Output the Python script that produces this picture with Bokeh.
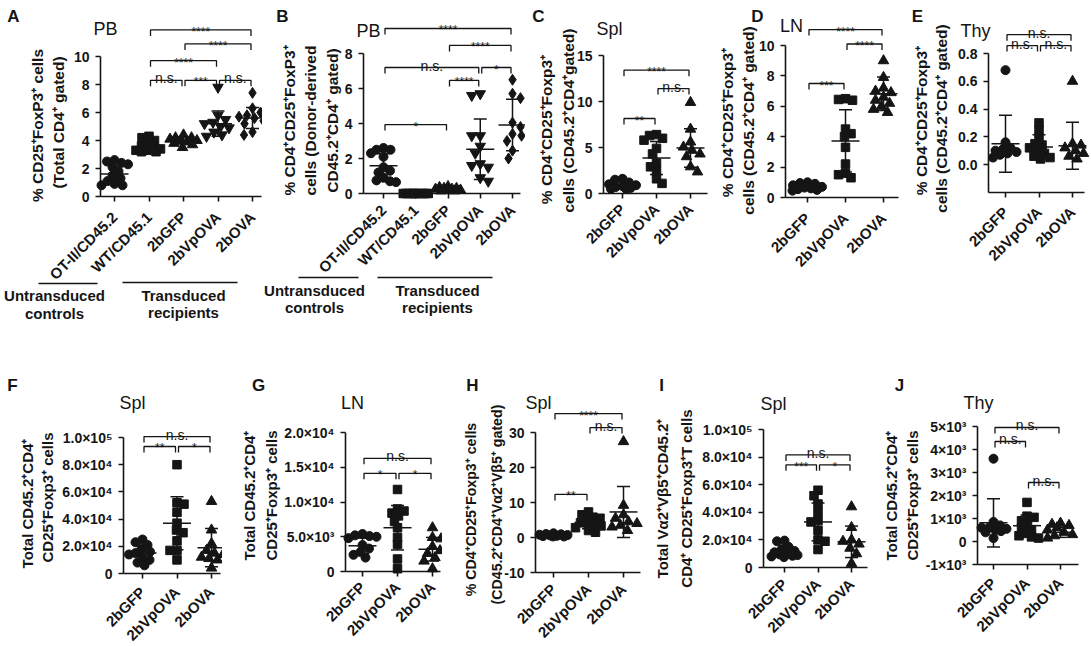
import math
from bokeh.plotting import figure
from bokeh.layouts import row, column
from bokeh.models import FixedTicker, Label, Arrow
from bokeh.core.properties import value
from bokeh.embed import file_html
from bokeh.resources import INLINE

FONT = "Liberation Sans"
INK = "#151515"

# ---------------------------------------------------------------- data
CATS5 = ["OT-II/CD45.2", "WT/CD45.1", "2bGFP", "2bVpOVA", "2bOVA"]
CATS3 = ["2bGFP", "2bVpOVA", "2bOVA"]
MARK5 = ["circle", "square", "triangle", "inverted_triangle", "diamond"]
MARK3 = ["circle", "square", "triangle"]

# A  PB, % CD25+FoxP3+ (total CD4+)
a_otii = [2.6, 2.5, 2.4, 2.3, 2.1, 1.8, 1.5, 1.3, 1.1, 0.9, 0.8, 0.8]
a_wt = [4.3, 4.2, 4.0, 3.8, 3.6, 3.5, 3.4, 3.3, 3.3, 3.2, 3.2]
a_gfp = [4.4, 4.2, 4.2, 4.1, 4.0, 4.0, 3.9, 3.8, 3.7, 3.5]
a_vpova = [7.8, 5.8, 5.5, 5.3, 5.2, 5.0, 4.9, 4.6, 4.4, 4.3]
a_ova = [7.4, 6.3, 6.0, 5.8, 5.7, 5.6, 5.4, 5.2, 4.6, 4.4]
a_mean = [1.6, 3.5, 4.0, 5.2, 5.6]
a_sd = [0.6, 0.3, 0.25, 0.9, 0.75]
a_sig = [(1, 2, 8.3, "n.s."), (2, 3, 8.3, "***"), (3, 4, 8.3, "n.s."),
         (1, 3, 9.7, "****"), (2, 4, 10.9, "****"), (1, 4, 11.9, "****")]
a_ticks = [0, 2, 4, 6, 8, 10]
a_tick_labels = ["0", "2", "4", "6", "8", "10"]

# B  PB, % donor-derived Treg
b_otii = [2.6, 2.5, 2.5, 2.3, 2.1, 1.5, 1.3, 1.2, 0.9, 0.75, 0.7, 0.65]
b_wt = [0.0, 0.0, 0.0, 0.0, 0.0, 0.0, 0.0, 0.0, 0.0, 0.0]
b_gfp = [0.4, 0.35, 0.3, 0.3, 0.25, 0.25, 0.2, 0.2, 0.15, 0.15]
b_vpova = [5.7, 5.6, 3.3, 3.3, 2.7, 2.3, 1.7, 1.6, 1.5, 0.9, 0.7]
b_ova = [6.5, 5.7, 5.45, 4.05, 3.8, 3.4, 3.3, 3.0, 2.45, 2.0]
b_mean = [1.58, 0.0, 0.25, 2.53, 3.92]
b_sd = [0.7, 0.0, 0.08, 1.73, 1.47]
b_sig = [(0, 4, 9.43, "****"), (2, 4, 8.46, "****"), (0, 3, 7.2, "n.s."),
         (3, 4, 7.2, "*"), (2, 3, 6.46, "****"), (0, 2, 3.94, "*")]
b_ticks = [0, 2, 4, 6, 8]
b_tick_labels = ["0", "2", "4", "6", "8"]

# C  Spl, % CD4+CD25+Foxp3+ (CD45.2+CD4+ gated)
c_gfp = [1.6, 1.5, 1.2, 1.0, 0.9, 0.8, 0.7, 0.6, 0.5, 0.5]
c_vpova = [6.4, 6.3, 6.0, 5.8, 4.9, 4.3, 3.3, 2.9, 2.4, 1.6, 1.1]
c_ova = [9.9, 7.0, 5.6, 5.05, 4.7, 4.3, 4.0, 2.9, 2.35]
c_mean = [0.9, 3.86, 4.95]
c_sd = [0.4, 1.8, 2.1]
c_sig = [(0, 2, 13.4, "****"), (1, 2, 11.4, "n.s."), (0, 1, 8.15, "**")]
c_ticks = [0, 5, 10, 15]
c_tick_labels = ["0", "5", "10", "15"]

# D  LN
d_gfp = [1.0, 0.95, 0.9, 0.8, 0.7, 0.65, 0.6, 0.55, 0.5, 0.45]
d_vpova = [6.5, 6.45, 6.4, 4.5, 4.2, 4.0, 3.3, 2.2, 1.6, 1.5, 1.3]
d_ova = [9.0, 7.9, 7.2, 7.0, 6.9, 6.6, 6.4, 6.2, 6.0, 5.8, 5.6]
d_mean = [0.7, 3.72, 6.83]
d_sd = [0.2, 2.05, 1.1]
d_sig = [(0, 2, 11.05, "****"), (1, 2, 10.1, "****"), (0, 1, 7.5, "***")]
d_ticks = [0, 2, 4, 6, 8, 10]
d_tick_labels = ["0", "2", "4", "6", "8", "10"]

# E  Thy
e_gfp = [0.68, 0.16, 0.12, 0.11, 0.1, 0.09, 0.08, 0.07, 0.05]
e_vpova = [0.30, 0.25, 0.19, 0.15, 0.14, 0.12, 0.10, 0.08, 0.06, 0.05, 0.04]
e_ova = [0.60, 0.15, 0.14, 0.12, 0.10, 0.08, 0.06, 0.04]
e_mean = [0.15, 0.127, 0.135]
e_sd = [0.205, 0.087, 0.17]
e_sig = [(0, 2, 0.936, "n.s."), (0, 1, 0.857, "n.s."), (1, 2, 0.857, "n.s.")]
e_ticks = [0, 0.2, 0.4, 0.6, 0.8]
e_tick_labels = ["0.0", "0.2", "0.4", "0.6", "0.8"]

# F  Spl, total CD45.2+CD4+CD25+Foxp3+ cells
f_gfp = [25000, 23000, 21000, 18000, 16000, 15000, 14000, 12000, 10000, 8000, 6000]
f_vpova = [80000, 52000, 51000, 45000, 37000, 32000, 30000, 24000, 17000, 17000, 10000]
f_ova = [53000, 32000, 22000, 17000, 15000, 14000, 12000, 11000, 10000, 4000]
f_mean = [15000, 37000, 19000]
f_sd = [5500, 19500, 14000]
f_sig = [(0, 2, 100700, "n.s."), (0, 1, 93400, "**"), (1, 2, 93400, "*")]
f_ticks = [0, 20000, 40000, 60000, 80000, 100000]
f_tick_labels = ["0", "2.0×10⁴", "4.0×10⁴", "6.0×10⁴", "8.0×10⁴", "1.0×10⁵"]

# G  LN, total cells
g_gfp = [5400, 5200, 5100, 5000, 4800, 3800, 3300, 2800, 2400, 2000]
g_vpova = [11800, 9000, 8700, 8400, 8000, 7200, 6300, 4900, 3900, 1800, 400]
g_ova = [6300, 4900, 4700, 3600, 3000, 2600, 2000, 1500, 400]
g_mean = [3700, 6300, 3200]
g_sd = [1100, 3200, 1700]
g_sig = [(0, 2, 16280, "n.s."), (0, 1, 14120, "*"), (1, 2, 14120, "*")]
g_ticks = [0, 5000, 10000, 15000, 20000]
g_tick_labels = ["0", "5.0×10³", "1.0×10⁴", "1.5×10⁴", "2.0×10⁴"]

# H  Spl, % of Va2+Vb5+ gated
h_gfp = [1.2, 1.0, 0.9, 0.8, 0.7, 0.6, 0.5, 0.4, 0.3, 0.3]
h_vpova = [7.3, 6.5, 5.8, 5.5, 4.5, 4.2, 3.8, 3.3, 2.8, 2.0, 1.5]
h_ova = [27.4, 9.2, 6.5, 5.5, 4.5, 4.0, 3.5, 3.0, 2.0]
h_mean = [0.6, 4.3, 7.3]
h_sd = [0.3, 1.8, 7.3]
h_sig = [(0, 2, 35.4, "****"), (1, 2, 31.4, "n.s."), (0, 1, 12.3, "**")]
h_ticks = [-10, 0, 10, 20, 30]
h_tick_labels = ["-10", "0", "10", "20", "30"]

# I  Spl, total Va2+Vb5+ Treg
i_gfp = [19500, 19000, 15000, 13000, 12000, 11000, 10000, 9500, 9000, 8500, 8000, 7500]
i_vpova = [56000, 52000, 46000, 40000, 34000, 33000, 27000, 20000, 19000, 13000]
i_ova = [44000, 29000, 20000, 19000, 17000, 14000, 10000, 3000]
i_mean = [12500, 33000, 18600]
i_sd = [3600, 13700, 11400]
i_sig = [(0, 2, 81600, "n.s."), (0, 1, 74400, "***"), (1, 2, 74400, "*")]
i_ticks = [0, 20000, 40000, 60000, 80000, 100000]
i_tick_labels = ["0", "2.0×10⁴", "4.0×10⁴", "6.0×10⁴", "8.0×10⁴", "1.0×10⁵"]

# J  Thy, total cells
j_gfp = [3600, 850, 700, 600, 600, 550, 500, 450, 400, 150]
j_vpova = [1700, 1100, 1050, 900, 750, 600, 500, 350, 250, 200, 150]
j_ova = [800, 750, 700, 600, 500, 400, 300, 250, 150]
j_mean = [810, 690, 400]
j_sd = [1050, 460, 220]
j_sig = [(0, 2, 4957, "n.s."), (0, 1, 4348, "n.s."), (1, 2, 2565, "n.s.")]
j_ticks = [-1000, 0, 1000, 2000, 3000, 4000, 5000]
j_tick_labels = ["-1×10³", "0", "1×10³", "2×10³", "3×10³", "4×10³", "5×10³"]

YL_PCT = ["% CD4⁺CD25⁺Foxp3⁺", "cells (CD45.2⁺CD4⁺ gated)"]
YL_TOT = ["Total CD45.2⁺CD4⁺", "CD25⁺Foxp3⁺ cells"]

PANELS = [
    dict(key="A", title="PB", cats=CATS5, marks=MARK5, pts=[a_otii, a_wt, a_gfp, a_vpova, a_ova],
         mean=a_mean, sd=a_sd, sig=a_sig, ticks=a_ticks, tlabels=a_tick_labels,
         ylabel=["% CD25⁺FoxP3⁺ cells", "(Total CD4⁺ gated)"]),
    dict(key="B", title="PB", cats=CATS5, marks=MARK5, pts=[b_otii, b_wt, b_gfp, b_vpova, b_ova],
         mean=b_mean, sd=b_sd, sig=b_sig, ticks=b_ticks, tlabels=b_tick_labels,
         ylabel=["% CD4⁺CD25⁺FoxP3⁺", "cells (Donor-derived", "CD45.2⁺CD4⁺ gated)"]),
    dict(key="C", title="Spl", cats=CATS3, marks=MARK3, pts=[c_gfp, c_vpova, c_ova],
         mean=c_mean, sd=c_sd, sig=c_sig, ticks=c_ticks, tlabels=c_tick_labels,
         ylabel=["% CD4⁺CD25⁺Foxp3⁺", "cells (CD45.2⁺CD4⁺gated)"]),
    dict(key="D", title="LN", cats=CATS3, marks=MARK3, pts=[d_gfp, d_vpova, d_ova],
         mean=d_mean, sd=d_sd, sig=d_sig, ticks=d_ticks, tlabels=d_tick_labels, ylabel=YL_PCT),
    dict(key="E", title="Thy", cats=CATS3, marks=MARK3, pts=[e_gfp, e_vpova, e_ova],
         mean=e_mean, sd=e_sd, sig=e_sig, ticks=e_ticks, tlabels=e_tick_labels, ylabel=YL_PCT),
    dict(key="F", title="Spl", cats=CATS3, marks=MARK3, pts=[f_gfp, f_vpova, f_ova],
         mean=f_mean, sd=f_sd, sig=f_sig, ticks=f_ticks, tlabels=f_tick_labels, ylabel=YL_TOT),
    dict(key="G", title="LN", cats=CATS3, marks=MARK3, pts=[g_gfp, g_vpova, g_ova],
         mean=g_mean, sd=g_sd, sig=g_sig, ticks=g_ticks, tlabels=g_tick_labels, ylabel=YL_TOT),
    dict(key="H", title="Spl", cats=CATS3, marks=MARK3, pts=[h_gfp, h_vpova, h_ova],
         mean=h_mean, sd=h_sd, sig=h_sig, ticks=h_ticks, tlabels=h_tick_labels,
         ylabel=["% CD4⁺CD25⁺Foxp3⁺ cells", "(CD45.2⁺CD4⁺Vα2⁺Vβ5⁺ gated)"]),
    dict(key="I", title="Spl", cats=CATS3, marks=MARK3, pts=[i_gfp, i_vpova, i_ova],
         mean=i_mean, sd=i_sd, sig=i_sig, ticks=i_ticks, tlabels=i_tick_labels,
         ylabel=["Total Vα2⁺Vβ5⁺CD45.2⁺", "CD4⁺ CD25⁺Foxp3⁺T cells"]),
    dict(key="J", title="Thy", cats=CATS3, marks=MARK3, pts=[j_gfp, j_vpova, j_ova],
         mean=j_mean, sd=j_sd, sig=j_sig, ticks=j_ticks, tlabels=j_tick_labels, ylabel=YL_TOT),
]

# ---------------------------------------------------------------- layout (page pixels)
# fig: (left, right, top, bottom); axes: (y-axis x, x-axis end x, x-axis y)
# yref: (value_a, px_a, value_b, px_b) ; cat0: px of first category ; step: px between categories
GEO = {
    "A": dict(fig=(0, 262, 0, 330), axes=(100, 261, 196), yref=(0, 196, 10, 56), cat0=114, step=34.5,
              letter=(13, 16), tpos=(105, 28), ylx=[37, 58], yly=[125, 122], ylsize=15.5, xstand=13),
    "B": dict(fig=(262, 525, 0, 330), axes=(363, 520, 193), yref=(0, 193, 8, 53), cat0=383, step=32.25,
              letter=(282, 16), tpos=(368, 30), ylx=[289, 310, 332], yly=[120, 120, 120], ylsize=15.5, xstand=9),
    "C": dict(fig=(525, 710, 0, 330), axes=(603, 707, 193), yref=(0, 193, 15, 55), cat0=622, step=34,
              letter=(538, 16), tpos=(609, 28), ylx=[546, 568], yly=[129, 120], ylsize=15.5, xstand=8),
    "D": dict(fig=(710, 900, 0, 330), axes=(785, 898, 197), yref=(0, 197, 10, 45), cat0=807, step=38,
              letter=(757, 16), tpos=(791, 25), ylx=[727, 748], yly=[122, 120], ylsize=15.5, xstand=13),
    "E": dict(fig=(900, 1090, 0, 330), axes=(988, 1084, 192), yref=(0, 164, 0.8, 53), cat0=1005, step=33.5,
              letter=(917, 16), tpos=(975, 30), ylx=[921, 941], yly=[120, 118], ylsize=15.5, xstand=12),
    "F": dict(fig=(0, 222, 330, 645), axes=(123, 220, 573), yref=(0, 573, 100000, 437), cat0=142, step=34.5,
              letter=(12, 385), tpos=(132, 402), ylx=[27, 47], yly=[503, 497], ylsize=15, xstand=11),
    "G": dict(fig=(222, 442, 330, 645), axes=(345, 440, 571), yref=(0, 571, 20000, 432), cat0=362, step=35,
              letter=(258, 385), tpos=(352, 402), ylx=[249, 271], yly=[495, 495], ylsize=15, xstand=8),
    "H": dict(fig=(442, 645, 330, 645), axes=(535, 640, 572), yref=(-10, 572, 30, 432), cat0=553, step=35,
              letter=(472, 385), tpos=(538, 402), ylx=[470, 496], yly=[509, 504], ylsize=14.2, xstand=9),
    "I": dict(fig=(645, 870, 330, 645), axes=(763, 867, 567), yref=(0, 567, 100000, 429), cat0=784, step=33.5,
              letter=(661, 385), tpos=(773, 403), ylx=[662, 686], yly=[498, 498], ylsize=15, xstand=9),
    "J": dict(fig=(870, 1090, 330, 645), axes=(977, 1078, 564), yref=(-1000, 564, 5000, 426), cat0=993, step=33.5,
              letter=(899, 385), tpos=(978, 402), ylx=[891, 912], yly=[495, 495], ylsize=15, xstand=11),
}

# group captions under panels A and B: (x_from, x_to, line_y, text_x, text_y1, text_y2, line1, line2)
GROUPS = {
    "A": [(38, 97, 283, 54, 295, 313, "Untransduced", "controls"),
          (122, 237, 282, 183, 295, 312, "Transduced", "recipients")],
    "B": [(298, 358, 277, 314, 290, 307, "Untransduced", "controls"),
          (377, 492, 277, 437, 290, 307, "Transduced", "recipients")],
}

MSIZE = {"circle": 9, "square": 8.5, "triangle": 10.5, "inverted_triangle": 10.5, "diamond": 11}


def swarm_offsets(vals, sy, dmin, cap):
    order = sorted(range(len(vals)), key=lambda k: -vals[k])
    cands = [0.0]
    k = 1
    while k * 0.5 <= cap:
        cands += [k * 0.5, -k * 0.5]
        k += 1
    placed, offs = [], [0.0] * len(vals)
    for n, idx in enumerate(order):
        yp = vals[idx] * sy
        best, bestd = 0.0, -1.0
        for c in cands:
            cx = c if n % 2 == 0 else -c
            d = min((math.hypot(cx - px, yp - py) for px, py in placed), default=1e9)
            if d >= dmin:
                best = cx
                break
            if d > bestd:
                best, bestd = cx, d
        offs[idx] = best
        placed.append((best, yp))
    return offs


def make_panel(P):
    G = GEO[P["key"]]
    gl, gr, gt, gb = G["fig"]
    ax_x, ax_end, ax_y = G["axes"]
    v0, p0, v1, p1 = G["yref"]
    sy = (p0 - p1) / (v1 - v0)
    sx = G["step"]

    def X(ix):
        return (ix - G["cat0"]) / sx

    def Y(iy):
        return v0 + (p0 - iy) / sy

    p = figure(width=gr - gl, height=gb - gt, x_range=(X(gl), X(gr)), y_range=(Y(gb), Y(gt)),
               output_backend="svg", toolbar_location=None, min_border=0,
               min_border_left=0, min_border_right=0, min_border_top=0, min_border_bottom=0)
    p.outline_line_color = None
    p.grid.visible = False
    p.background_fill_color = "white"
    p.border_fill_color = "white"

    def label(text, ix, iy, size, style="normal", angle=0.0):
        p.add_layout(Label(x=X(ix), y=Y(iy), text=text, angle=angle, text_font=FONT,
                           text_font_size=f"{size}px", text_font_style=style,
                           text_align="center", text_baseline="middle", text_color=INK))

    # axes, drawn by Bokeh at fixed positions inside the canvas
    for ax in (p.xaxis[0], p.yaxis[0]):
        ax.axis_line_width = 1.6
        ax.axis_line_color = INK
        ax.major_tick_line_width = 1.6
        ax.major_tick_line_color = INK
        ax.major_tick_in = 0
        ax.major_tick_out = 5
        ax.minor_tick_line_color = None
        ax.major_label_text_font = FONT
        ax.major_label_text_font_style = "bold"
        ax.major_label_text_color = INK
    p.yaxis.major_label_text_font_size = "14px"
    p.xaxis.major_label_text_font_size = "15px"
    ticks = P["ticks"]
    p.yaxis.ticker = FixedTicker(ticks=ticks)
    p.yaxis.major_label_overrides = {t: s for t, s in zip(ticks, P["tlabels"])}
    p.yaxis.bounds = (Y(ax_y), ticks[-1])
    p.yaxis.fixed_location = X(ax_x)
    p.yaxis.major_label_standoff = 6
    n = len(P["cats"])
    p.xaxis.ticker = FixedTicker(ticks=list(range(n)))
    p.xaxis.major_label_overrides = {i: c for i, c in enumerate(P["cats"])}
    p.xaxis.major_label_orientation = math.pi / 4
    p.xaxis.major_label_standoff = G["xstand"]
    p.xaxis.bounds = (X(ax_x), X(ax_end))
    p.xaxis.fixed_location = Y(ax_y)

    # points
    for i in range(n):
        vals = P["pts"][i]
        m = P["marks"][i]
        offs = swarm_offsets(vals, sy, 0.8 * MSIZE[m], 0.4 * sx)
        p.scatter([i + o / sx for o in offs], vals, marker=m, size=MSIZE[m],
                  fill_color=INK, line_color=INK)

    # mean +/- SD
    idx = list(range(n))
    mh, ch = 14 / sx, 6.5 / sx
    mean, sd = P["mean"], P["sd"]
    hi = [m + s for m, s in zip(mean, sd)]
    lo = [m - s for m, s in zip(mean, sd)]
    kw = dict(line_width=1.5, line_color=INK)
    p.segment(x0=[i - mh for i in idx], y0=mean, x1=[i + mh for i in idx], y1=mean, **kw)
    p.segment(x0=idx, y0=lo, x1=idx, y1=hi, **kw)
    p.segment(x0=[i - ch for i in idx], y0=hi, x1=[i + ch for i in idx], y1=hi, **kw)
    p.segment(x0=[i - ch for i in idx], y0=lo, x1=[i + ch for i in idx], y1=lo, **kw)

    # significance brackets
    leg = 6 / sy
    ins = 1.5 / sx
    for (i, j, yb, txt) in P["sig"]:
        p.line([i + ins, i + ins, j - ins, j - ins], [yb - leg, yb, yb, yb - leg],
               line_width=1.3, line_color=INK)
        if txt == "n.s.":
            p.text(x=[(i + j) / 2], y=[yb + 2 / sy], text=[txt], text_font=value(FONT),
                   text_font_size="14px", text_align="center", text_baseline="alphabetic",
                   text_color=INK)
        else:
            p.text(x=[(i + j) / 2], y=[yb - 2 / sy], text=[txt], text_font=value(FONT),
                   text_font_size="12px", text_align="center", text_baseline="alphabetic",
                   text_color=INK)

    # letters, titles, y labels
    label(P["key"], *G["letter"], 17, "bold")
    label(P["title"], *G["tpos"], 18, "normal")
    for x_img, y_img, txt in zip(G["ylx"], G["yly"], P["ylabel"]):
        label(txt, x_img, y_img, G["ylsize"], "bold", angle=math.pi / 2)

    for (x0, x1, ly, tx, ty1, ty2, t1, t2) in GROUPS.get(P["key"], []):
        p.add_layout(Arrow(start=None, end=None, x_start=X(x0), y_start=Y(ly),
                           x_end=X(x1), y_end=Y(ly), line_width=1.5, line_color=INK))
        label(t1, tx, ty1, 15, "bold")
        label(t2, tx, ty2, 15, "bold")
    return p


figs = [make_panel(P) for P in PANELS]
layout = column(row(*figs[:5]), row(*figs[5:]))
open("out.html", "w").write(file_html(layout, INLINE, title="Treg panels"))
